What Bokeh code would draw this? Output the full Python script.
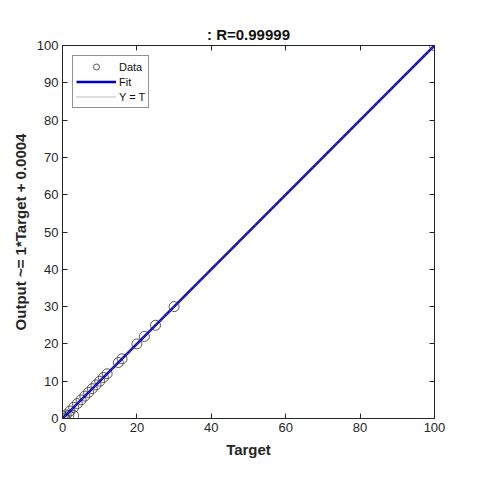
from bokeh.plotting import figure
from bokeh.models import LinearAxis, Legend, LegendItem, FixedTicker, Range1d
from bokeh.embed import file_html
from bokeh.resources import INLINE

# data
target = [0, 0.5, 1, 1.7, 2, 3, 3, 4, 5, 6, 7, 8, 9, 10, 11, 12, 15, 16, 20, 22, 25, 30, 100]
output = [0, 0.5, 1, 0.8, 2, 0.8, 3, 4, 5, 6, 7, 8, 9, 10, 11, 12, 15, 16, 20, 22, 25, 30, 100]
fit_x = [0, 100]
slope = 1.0
intercept = 0.0004
ticks = [0, 20, 40, 60, 80, 100]
yticks = [0, 10, 20, 30, 40, 50, 60, 70, 80, 90, 100]
title_text = ": R=0.99999"
xlabel = "Target"
ylabel = "Output ~= 1*Target + 0.0004"

FONT = "Liberation Sans"
AX = "#262626"

p = figure(width=472, height=472, output_backend="svg", toolbar_location=None,
           x_range=Range1d(0, 100), y_range=Range1d(0, 100),
           min_border_left=62, min_border_right=38, min_border_top=45, min_border_bottom=54,
           x_axis_location=None, y_axis_location=None)
p.grid.visible = False
p.background_fill_color = "white"
p.border_fill_color = "white"
p.outline_line_color = AX
p.outline_line_width = 1

def style_axis(ax, labels=True):
    ax.axis_line_color = AX
    ax.major_tick_line_color = AX
    ax.major_tick_in = 5
    ax.major_tick_out = 0
    ax.minor_tick_line_color = None
    ax.major_label_text_font = FONT
    ax.major_label_text_font_size = "13px"
    ax.major_label_text_color = AX
    ax.axis_label_text_font = FONT
    ax.axis_label_text_font_size = "15px"
    ax.axis_label_text_font_style = "bold"
    ax.axis_label_text_color = AX
    if not labels:
        ax.major_label_text_font_size = "0px"
        ax.major_label_text_alpha = 0

xb = LinearAxis(ticker=FixedTicker(ticks=ticks), axis_label=xlabel)
style_axis(xb)
xb.major_label_standoff = 4
xb.axis_label_standoff = 6
p.add_layout(xb, "below")
yl = LinearAxis(ticker=FixedTicker(ticks=yticks), axis_label=ylabel)
style_axis(yl)
yl.major_label_standoff = 4
yl.axis_label_standoff = 5
p.add_layout(yl, "left")
xt = LinearAxis(ticker=FixedTicker(ticks=ticks))
style_axis(xt, labels=False)
p.add_layout(xt, "above")
yr = LinearAxis(ticker=FixedTicker(ticks=yticks))
style_axis(yr, labels=False)
p.add_layout(yr, "right")

p.title.text = title_text
p.title.align = "center"
p.title.text_font = FONT
p.title.text_font_size = "15px"
p.title.text_font_style = "bold"
p.title.text_color = "#111111"
p.title.standoff = 6

fit_y = [slope * x + intercept for x in fit_x]

r_data = p.scatter(target, output, size=10, marker="circle", fill_color=None,
                   line_color="#333333", line_width=0.8)
r_fit = p.line(fit_x, fit_y, line_color="#0000c0", line_width=2.5)
r_yt = p.line(fit_x, fit_x, line_color="#777777", line_width=1, line_dash="1 1")

legend = Legend(items=[LegendItem(label="Data", renderers=[r_data]),
                       LegendItem(label="Fit", renderers=[r_fit]),
                       LegendItem(label="Y = T", renderers=[r_yt])],
                location="top_left")
legend.label_text_font = FONT
legend.label_text_font_size = "11px"
legend.label_text_color = "#111111"
legend.border_line_color = AX
legend.border_line_width = 1
legend.margin = 10
legend.padding = 3
legend.spacing = 0
legend.glyph_width = 40
legend.glyph_height = 15
legend.label_height = 15
legend.label_standoff = 3
legend.background_fill_alpha = 1
p.add_layout(legend, "center")

open("out.html", "w").write(file_html(p, INLINE))
